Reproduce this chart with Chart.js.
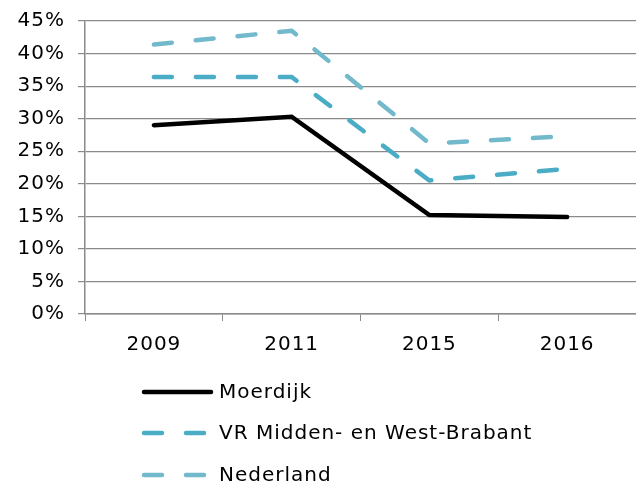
<!DOCTYPE html>
<html>
<head>
<meta charset="utf-8">
<script src="https://cdn.jsdelivr.net/npm/chart.js@4/dist/chart.umd.min.js"></script>
<style>
  html, body { margin: 0; padding: 0; background: #fff; }
  #wrap { width: 636px; height: 487px; position: relative; }
</style>
</head>
<body>
<div id="wrap"><canvas id="chart"></canvas></div>
<script>
const years = ["2009", "2011", "2015", "2016"];
const moerdijk = [29.0, 30.3, 15.2, 14.9];
const vrMiddenWestBrabant = [36.4, 36.4, 20.5, 22.3];
const nederland = [41.4, 43.5, 26.2, 27.3];
const yTicks = [0, 5, 10, 15, 20, 25, 30, 35, 40, 45];

const FONT = "'DejaVu Sans', Verdana, sans-serif";
const GRID = "#8a8a8a";

// a bit of tracking so the text runs as wide as Verdana
const spacing = {
  id: "spacing",
  beforeDraw(chart) { chart.ctx.letterSpacing = "1px"; },
};

// legend drawn as a vertical list of line samples under the plot
const lineLegend = {
  id: "lineLegend",
  afterDraw(chart) {
    const ctx = chart.ctx;
    const rows = [392, 433, 475];
    ctx.save();
    chart.data.datasets.forEach((ds, i) => {
      const y = rows[i];
      ctx.beginPath();
      ctx.strokeStyle = ds.borderColor;
      ctx.lineWidth = ds.borderWidth;
      ctx.lineCap = "round";
      ctx.setLineDash(ds.borderDash || []);
      ctx.moveTo(144, y);
      ctx.lineTo(211, y);
      ctx.stroke();
      ctx.setLineDash([]);
      ctx.fillStyle = "#000";
      ctx.font = "20px " + FONT;
      ctx.letterSpacing = "1px";
      ctx.textBaseline = "middle";
      ctx.fillText(ds.label, 219, y + 1);
    });
    ctx.restore();
  },
};

new Chart(document.getElementById("chart"), {
  type: "line",
  data: {
    labels: years,
    datasets: [
      {
        label: "Moerdijk",
        data: moerdijk,
        borderColor: "#000000",
        borderWidth: 4.5,
        borderCapStyle: "round",
      },
      {
        label: "VR Midden- en West-Brabant",
        data: vrMiddenWestBrabant,
        borderColor: "#4bacc6",
        borderWidth: 4.5,
        borderDash: [18, 24],
        borderCapStyle: "round",
      },
      {
        label: "Nederland",
        data: nederland,
        borderColor: "#72b9cc",
        borderWidth: 4.5,
        borderDash: [18, 24],
        borderCapStyle: "round",
      },
    ],
  },
  options: {
    responsive: true,
    maintainAspectRatio: false,
    animation: false,
    elements: { point: { radius: 0 }, line: { tension: 0 } },
    layout: { padding: { top: 21, right: 0, bottom: 123, left: 0 } },
    plugins: { legend: { display: false }, tooltip: { enabled: false } },
    scales: {
      x: {
        offset: true,
        grid: {
          offset: true,
          drawOnChartArea: false,
          color: GRID,
          tickLength: 7,
        },
        border: { color: GRID, width: 1.5 },
        ticks: { color: "#000", font: { family: FONT, size: 20 }, padding: 12 },
        afterFit(scale) { scale.height = 50; },
      },
      y: {
        min: 0,
        max: 45,
        afterBuildTicks(scale) { scale.ticks = yTicks.map((v) => ({ value: v })); },
        grid: { color: GRID, lineWidth: 1.2, tickLength: 7 },
        border: { color: GRID, width: 1.5 },
        ticks: {
          color: "#000",
          font: { family: FONT, size: 20 },
          padding: 13,
          callback: (v) => v + "%",
        },
        afterFit(scale) {
          scale.width = 85;
          scale.paddingTop = 0;
          scale.paddingBottom = 0;
        },
      },
    },
  },
  plugins: [spacing, lineLegend],
});
</script>
</body>
</html>
